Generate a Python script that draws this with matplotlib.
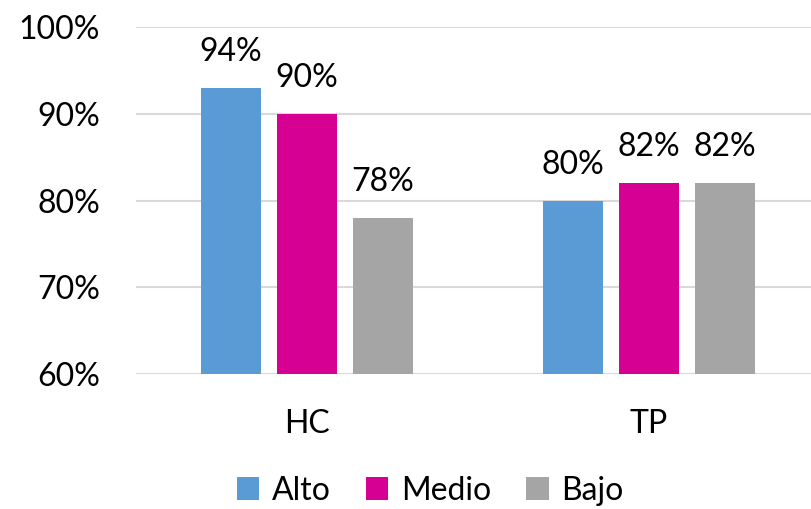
import numpy as np
import matplotlib
matplotlib.use('Agg')
import matplotlib.pyplot as plt

plt.rcParams['font.family'] = ['Lato', 'DejaVu Sans']

# datos
categorias = ['HC', 'TP']
series = ['Alto', 'Medio', 'Bajo']
alto = [93, 80]
medio = [90, 82]
bajo = [78, 82]
etiquetas = [['94%', '80%'], ['90%', '82%'], ['78%', '82%']]
colores = ['#5B9BD5', '#D60093', '#A5A5A5']
yticks = [60, 70, 80, 90, 100]

fs = 23

fig = plt.figure(figsize=(8.12, 5.09), dpi=100)
ax = fig.add_axes([0.1675, 0.265, 0.842, 0.682])

x = np.arange(len(categorias))
ancho = 0.175
paso = 0.222
for i, (vals, nombre) in enumerate(zip([alto, medio, bajo], series)):
    pos = x + (i - 1) * paso
    barras = ax.bar(pos, vals, width=ancho, color=colores[i], label=nombre, zorder=3)
    for b, txt in zip(barras, etiquetas[i]):
        ax.text(b.get_x() + b.get_width() / 2, b.get_height() + 2.4, txt,
                ha='center', va='bottom', fontsize=fs, color='black')

ax.set_xlim(-0.5, 1.5)
ax.set_ylim(60, 100)
ax.set_yticks(yticks)
ax.set_yticklabels([f'{v}%' for v in yticks], fontsize=fs)
ax.set_xticks(x)
ax.set_xticklabels(categorias, fontsize=fs)
ax.tick_params(axis='y', length=0, pad=26)
ax.tick_params(axis='x', length=0, pad=25)
ax.grid(axis='y', color='#D9D9D9', linewidth=1.5, zorder=0)
for s in ax.spines.values():
    s.set_visible(False)

fig.legend(loc='lower center', bbox_to_anchor=(0.53, -0.05), ncol=3, frameon=False,
           fontsize=fs, handlelength=0.7, handleheight=0.7, handletextpad=0.4,
           columnspacing=1.1)

plt.savefig('out.png', dpi=100)
